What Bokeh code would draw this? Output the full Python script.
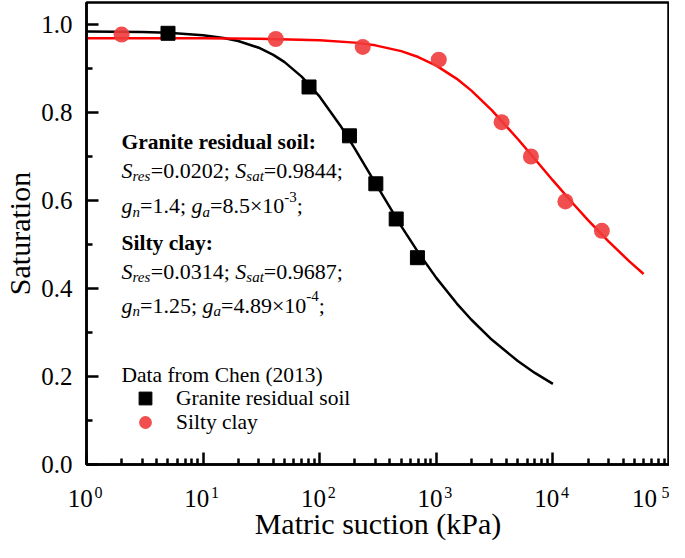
from bokeh.plotting import figure
from bokeh.models import (FixedTicker, Label, Legend, LegendItem, LogAxis,
                          NumeralTickFormatter, Range1d)
from bokeh.embed import file_html
from bokeh.resources import INLINE

# ---------------- data ----------------
granite_suction = [5, 81, 180, 303, 453, 689]
granite_sat = [0.980, 0.858, 0.747, 0.638, 0.558, 0.470]

silty_suction = [2.0, 42, 234, 1050, 3630, 6480, 12800, 26300]
silty_sat = [0.977, 0.967, 0.949, 0.920, 0.778, 0.700, 0.598, 0.531]

granite_fit_x = [1, 3, 5, 10, 15, 20, 30, 40, 50, 70, 100, 150, 200, 300,
                 500, 700, 1000, 1500, 2000, 3000, 5000, 7000, 10000]
granite_fit_y = [0.9841, 0.9828, 0.9811, 0.9758, 0.9695, 0.9625, 0.9472,
                 0.9310, 0.9144, 0.8816, 0.8359, 0.7706, 0.7180, 0.6396,
                 0.5419, 0.4821, 0.4242, 0.3658, 0.3290, 0.2834, 0.2351,
                 0.2081, 0.1832]

silty_fit_x = [1, 10, 30, 100, 200, 300, 500, 700, 1000, 1500, 2000, 3000,
               5000, 7000, 10000, 15000, 20000, 30000, 45000, 60000]
silty_fit_y = [0.9687, 0.9685, 0.9678, 0.9644, 0.9588, 0.9526, 0.9395,
               0.9261, 0.9066, 0.8765, 0.8497, 0.8048, 0.7397, 0.6942,
               0.6456, 0.5920, 0.5555, 0.5071, 0.4623, 0.4329]

x_major_ticks = [1, 10, 100, 1000, 10000, 100000]
x_tick_base = "10\u2002"
x_tick_exponents = ["0", "1", "2", "3", "4", "5"]
x_minor_ticks = [m * d for d in [1, 10, 100, 1000, 10000] for m in range(2, 10)]
y_major_ticks = [0.0, 0.2, 0.4, 0.6, 0.8, 1.0]
y_minor_ticks = [0.1, 0.3, 0.5, 0.7, 0.9]

FONT = "Liberation Serif"

p = figure(width=669, height=542, x_axis_type="log",
           x_range=Range1d(1, 1e5), y_range=Range1d(0, 1.05),
           output_backend="svg", toolbar_location=None,
           min_border_left=81, min_border_right=0,
           min_border_top=2, min_border_bottom=70)
p.grid.visible = False
p.outline_line_color = "black"
p.outline_line_width = 2.5
p.outline_line_alpha = 1.0
p.background_fill_color = "white"

for ax in (p.xaxis[0], p.yaxis[0]):
    ax.axis_line_width = 2.5
    ax.axis_line_color = "black"
    ax.major_tick_line_width = 2.5
    ax.minor_tick_line_width = 2.5
    ax.major_tick_line_color = "black"
    ax.minor_tick_line_color = "black"
    ax.major_tick_in = 12
    ax.major_tick_out = 0
    ax.minor_tick_in = 6
    ax.minor_tick_out = 0
    ax.major_label_text_font = FONT
    ax.major_label_text_font_size = "25px"
    ax.major_label_text_color = "black"
    ax.axis_label_text_font = FONT
    ax.axis_label_text_font_size = "30px"
    ax.axis_label_text_font_style = "normal"
    ax.axis_label_text_color = "black"

# main x axis: ticks, the "10" part of the labels and the axis title
p.xaxis.ticker = FixedTicker(ticks=x_major_ticks, minor_ticks=x_minor_ticks)
p.xaxis.major_label_overrides = {t: x_tick_base for t in x_major_ticks}
p.xaxis.major_label_standoff = 20
p.xaxis.axis_label = "Matric suction (kPa)"
p.xaxis.axis_label_standoff = -8

# second x axis (no line, no ticks): the exponents, pulled up beside the "10"
exp_axis = LogAxis(
    ticker=FixedTicker(ticks=x_major_ticks, minor_ticks=[]),
    major_label_overrides={t: "\u2007\u2007\u2007" + e
                           for t, e in zip(x_major_ticks, x_tick_exponents)},
    axis_line_color=None, major_tick_line_color=None,
    minor_tick_line_color=None, major_tick_in=0, major_tick_out=0,
    minor_tick_in=0, minor_tick_out=0,
    major_label_standoff=-59,
    major_label_text_font=FONT, major_label_text_font_size="16px",
    major_label_text_color="black")
p.add_layout(exp_axis, "below")

p.yaxis.ticker = FixedTicker(ticks=y_major_ticks, minor_ticks=y_minor_ticks)
p.yaxis.formatter = NumeralTickFormatter(format="0.0")
p.yaxis.major_label_standoff = 14
p.yaxis.axis_label = "Saturation"
p.yaxis.axis_label_standoff = 2

# fitted curves
p.line(granite_fit_x, granite_fit_y, line_color="black", line_width=2.5)
p.line(silty_fit_x, silty_fit_y, line_color="#FF0000", line_width=2.5)

# measured data
sq = p.scatter(granite_suction, granite_sat, marker="square", size=14,
               fill_color="black", line_color="black")
ci = p.scatter(silty_suction, silty_sat, marker="circle", size=16,
               fill_color="#F03C3C", fill_alpha=0.9, line_color=None)

X0 = 35.0

legend_style = dict(glyph_width=48, glyph_height=32, label_standoff=7,
                    padding=0, margin=0, spacing=0,
                    border_line_color=None, background_fill_alpha=0,
                    label_text_font=FONT, label_text_font_size="21.5px",
                    label_text_color="black")
legend_a = Legend(
    items=[LegendItem(label="Granite residual soil", renderers=[sq])],
    location=(int(X0), 50), **legend_style)
legend_b = Legend(
    items=[LegendItem(label="Silty clay", renderers=[ci])],
    location=(int(X0), 26), **legend_style)
p.add_layout(legend_a)
p.add_layout(legend_b)
p.add_layout(Label(x=1, y=0.204, x_offset=X0, text="Data from Chen (2013)",
                   text_font=FONT, text_font_size="21.5px",
                   text_color="black", text_align="left",
                   text_baseline="alphabetic"))

# ---------------- annotation text with sub/superscripts ----------------
REG_W = {c: 500 for c in "0123456789"}
REG_W.update({".": 250, ";": 278, "=": 564, "\u00d7": 564, "-": 333, " ": 250})
ITA_W = {"S": 500, "r": 389, "e": 444, "s": 389, "a": 500, "t": 278,
         "g": 500, "n": 500}

MAIN = 22.0
SMALL = 15.0


def rich_line(y, segments, x_start=X0):
    x = x_start
    for text, kind in segments:
        if kind == "it":
            size, style, dy, table = MAIN, "italic", 0, ITA_W
        elif kind == "sub":
            size, style, dy, table = SMALL, "italic", -6, ITA_W
        elif kind == "sup":
            size, style, dy, table = SMALL, "normal", 9, REG_W
        else:
            size, style, dy, table = MAIN, "normal", 0, REG_W
        p.add_layout(Label(x=1, y=y, x_offset=x, y_offset=dy, text=text,
                           text_font=FONT, text_font_size=f"{size}px",
                           text_font_style=style, text_color="black",
                           text_align="left", text_baseline="alphabetic"))
        x += sum(table[c] for c in text) * size / 1000.0


def bold_line(y, text, x_start=X0):
    p.add_layout(Label(x=1, y=y, x_offset=x_start, text=text, text_font=FONT,
                       text_font_size="21.5px", text_font_style="bold",
                       text_color="black", text_align="left",
                       text_baseline="alphabetic"))


bold_line(0.734, "Granite residual soil:")
rich_line(0.669, [("S", "it"), ("res", "sub"), ("=0.0202; ", "reg"),
                  ("S", "it"), ("sat", "sub"), ("=0.9844;", "reg")])
rich_line(0.588, [("g", "it"), ("n", "sub"), ("=1.4; ", "reg"),
                  ("g", "it"), ("a", "sub"), ("=8.5\u00d710", "reg"),
                  ("-3", "sup"), (";", "reg")])
bold_line(0.504, "Silty clay:")
rich_line(0.439, [("S", "it"), ("res", "sub"), ("=0.0314; ", "reg"),
                  ("S", "it"), ("sat", "sub"), ("=0.9687;", "reg")])
rich_line(0.362, [("g", "it"), ("n", "sub"), ("=1.25; ", "reg"),
                  ("g", "it"), ("a", "sub"), ("=4.89\u00d710", "reg"),
                  ("-4", "sup"), (";", "reg")])

open("out.html", "w").write(file_html(p, INLINE))
